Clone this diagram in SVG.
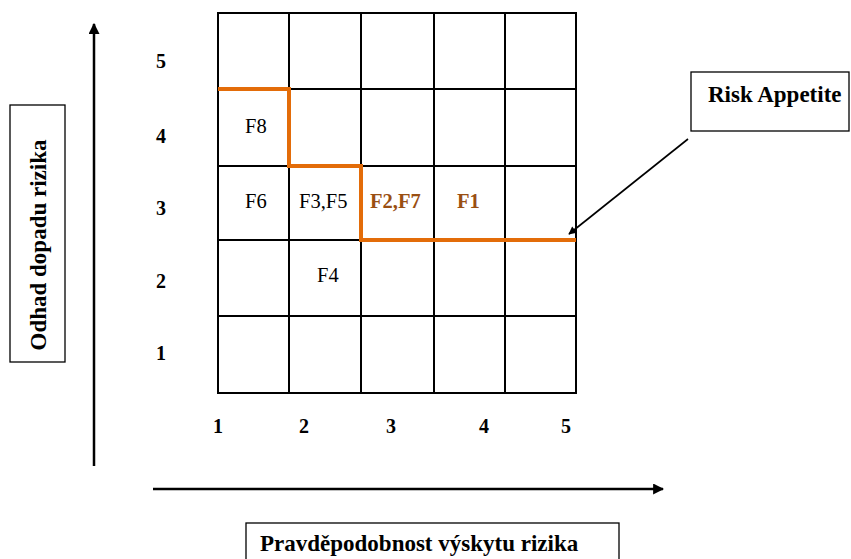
<svg xmlns="http://www.w3.org/2000/svg" width="851" height="559" viewBox="0 0 851 559">
  <style>
    .grid { fill: none; stroke: #000; stroke-width: 2; }
    .box { fill: #fff; stroke: #000; stroke-width: 1.3; }
    .lbl { font-family: "Liberation Serif", "Times New Roman", serif; font-weight: bold; font-size: 23px; fill: #000; }
    .num { font-family: "Liberation Serif", "Times New Roman", serif; font-weight: bold; font-size: 20px; fill: #000; }
    .cell { font-family: "Liberation Serif", "Times New Roman", serif; font-size: 20.5px; fill: #000; }
    .cellb { font-family: "Liberation Serif", "Times New Roman", serif; font-size: 20.5px; font-weight: bold; fill: #9A4F12; }
    .axis { stroke: #000; stroke-width: 2.5; fill: none; }
  </style>
  <defs>
    <marker id="ah" viewBox="0 0 10 10" refX="9" refY="5" markerWidth="11" markerHeight="11" markerUnits="userSpaceOnUse" orient="auto">
      <path d="M0,0 L10,5 L0,10 z" fill="#000"/>
    </marker>
    <marker id="ah2" viewBox="0 0 10 10" refX="9" refY="5" markerWidth="10" markerHeight="8" markerUnits="userSpaceOnUse" orient="auto">
      <path d="M0,0 L10,5 L0,10 z" fill="#000"/>
    </marker>
  </defs>
  <rect width="851" height="559" fill="#fff"/>

  <g id="connectors">
    <line class="axis" x1="94" y1="466" x2="94" y2="24" marker-end="url(#ah)"/>
    <line class="axis" x1="153" y1="489" x2="663" y2="489" marker-end="url(#ah)"/>
    <line x1="688" y1="139" x2="569" y2="234" stroke="#000" stroke-width="1.6" marker-end="url(#ah2)"/>
  </g>

  <g id="matrix">
    <rect class="grid" x="218" y="13" width="358" height="380"/>
    <line class="grid" x1="289" y1="13" x2="289" y2="393"/>
    <line class="grid" x1="361" y1="13" x2="361" y2="393"/>
    <line class="grid" x1="434" y1="13" x2="434" y2="393"/>
    <line class="grid" x1="505" y1="13" x2="505" y2="393"/>
    <line class="grid" x1="218" y1="89" x2="576" y2="89"/>
    <line class="grid" x1="218" y1="166" x2="576" y2="166"/>
    <line class="grid" x1="218" y1="240" x2="576" y2="240"/>
    <line class="grid" x1="218" y1="316" x2="576" y2="316"/>
  </g>

  <g id="risk-appetite-line">
    <polyline points="218,89 289,89 289,166 361,166 361,240 576,240" fill="none" stroke="#E36C09" stroke-width="4"/>
  </g>

  <g id="cells">
    <text class="cell" x="245" y="133">F8</text>
    <text class="cell" x="245" y="208">F6</text>
    <text class="cell" x="299" y="208">F3,F5</text>
    <text class="cellb" x="370" y="208">F2,F7</text>
    <text class="cellb" x="457" y="208">F1</text>
    <text class="cell" x="317" y="282">F4</text>
  </g>

  <g id="y-labels">
    <text class="num" x="156" y="68">5</text>
    <text class="num" x="156" y="143">4</text>
    <text class="num" x="156" y="215">3</text>
    <text class="num" x="156" y="288">2</text>
    <text class="num" x="156" y="360">1</text>
  </g>
  <g id="x-labels">
    <text class="num" x="213" y="433">1</text>
    <text class="num" x="299" y="433">2</text>
    <text class="num" x="386" y="433">3</text>
    <text class="num" x="479" y="433">4</text>
    <text class="num" x="561" y="433">5</text>
  </g>

  <g id="risk-appetite-box">
    <rect class="box" x="691" y="72" width="158" height="59" stroke-width="2"/>
    <text class="lbl" x="708" y="102">Risk Appetite</text>
  </g>

  <g id="y-axis-label">
    <rect class="box" x="10" y="105" width="55" height="257"/>
    <text class="lbl" transform="translate(46,245) rotate(-90)" text-anchor="middle">Odhad dopadu rizika</text>
  </g>

  <g id="x-axis-label">
    <rect class="box" x="246" y="523" width="373" height="40"/>
    <text class="lbl" x="260" y="551">Pravděpodobnost výskytu rizika</text>
  </g>
</svg>
